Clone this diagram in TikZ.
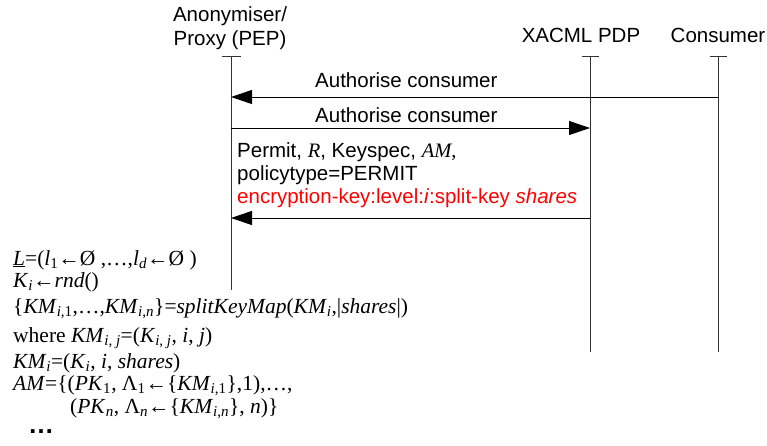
\documentclass[tikz,border=0pt]{standalone}
\usepackage{fontspec}
\setmainfont{Liberation Sans}
\newfontfamily\ser{Liberation Serif}
\usetikzlibrary{arrows.meta}
\newcommand{\lo}[1]{\textsubscript{#1}}
\newcommand{\ii}[1]{\textit{#1}}
\tikzset{
  lbl/.style={font=\fontsize{20.5}{24}\selectfont, inner sep=0pt},
  mathln/.style={font=\ser\fontsize{21.5}{24}\selectfont, anchor=west, inner sep=0pt},
  life/.style={draw=black!80, line width=0.9pt},
  msg/.style={draw=black, line width=0.9pt, -{Triangle[length=21pt,width=14pt]}},
}
\begin{document}
\begin{tikzpicture}[x=1pt,y=-1pt]
\useasboundingbox (0,0) rectangle (767,445);
% headers
\node[lbl, align=center] (hpep) at (230,28) {Anonymiser/\\Proxy (PEP)};
\node[lbl] (hpdp) at (581,35) {XACML PDP};
\node[lbl] (hcon) at (718,35) {Consumer};
% lifelines
\coordinate (pepT) at (231,56); \coordinate (pepB) at (231,290);
\coordinate (pdpT) at (590,56); \coordinate (pdpB) at (590,352);
\coordinate (conT) at (718,56); \coordinate (conB) at (718,352);
\draw[life] (pepT) -- (pepB);
\draw[life] (pdpT) -- (pdpB);
\draw[life] (conT) -- (conB);
\draw[life] ([xshift=-9.5pt]pepT) -- ([xshift=9.5pt]pepT);
\draw[life] ([xshift=-8.5pt]pdpT) -- ([xshift=8.5pt]pdpT);
\draw[life] ([xshift=-8.5pt]conT) -- ([xshift=8.5pt]conT);
% messages
\coordinate (m1s) at (718,97); \coordinate (m1e) at (231,97);
\draw[msg] (m1s) -- (m1e);
\node[lbl, anchor=west] (l1) at (315,80) {Authorise consumer};
\coordinate (m2s) at (231,128); \coordinate (m2e) at (590,128);
\draw[msg] (m2s) -- (m2e);
\node[lbl, anchor=west] (l2) at (315,115) {Authorise consumer};
\coordinate (m3s) at (590,218); \coordinate (m3e) at (231,218);
\draw[msg] (m3s) -- (m3e);
\node[lbl, anchor=west] (l3a) at (237,152) {Permit, {\ser\ii{R}}, Keyspec, {\ser\ii{AM},}};
\node[lbl, anchor=west] (l3b) at (237,175) {policytype=PERMIT};
\node[lbl, anchor=west, text=red] (l3c) at (237,198) {encryption-key:level:\ii{i}:split-key \ii{shares}};
% math block
\node[mathln] (e1) at (13,260) {\underline{\ii{L}}=(\ii{l}\lo{1}←Ø ,…,\ii{l}\lo{\ii{d}}←Ø )};
\node[mathln] (e2) at (13,282) {\ii{K}\lo{\ii{i}}←\ii{rnd}()};
\node[mathln] (e3) at (13,309) {\{\ii{KM}\lo{\ii{i},1},…,\ii{KM}\lo{\ii{i},\ii{n}}\}=\ii{splitKeyMap}(\ii{KM}\lo{\ii{i}},|\ii{shares}|)};
\node[mathln] (e4) at (13,338) {where \ii{KM}\lo{\ii{i}, \ii{j}}=(\ii{K}\lo{\ii{i}, \ii{j}}, \ii{i}, \ii{j})};
\node[mathln] (e5) at (13,363) {\ii{KM}\lo{\ii{i}}=(\ii{K}\lo{\ii{i}}, \ii{i}, \ii{shares})};
\node[mathln] (e6) at (13,386) {\ii{AM}=\{(\ii{PK}\lo{1}, Λ\lo{1}←\{\ii{KM}\lo{\ii{i},1}\},1),…,};
\node[mathln] (e7) at (70,409) {(\ii{PK}\lo{\ii{n}}, Λ\lo{\ii{n}}←\{\ii{KM}\lo{\ii{i},\ii{n}}\}, \ii{n})\}};
\node[lbl, anchor=west, font=\bfseries\fontsize{26}{28}\selectfont] (e8) at (28,432) {…};
\end{tikzpicture}
\end{document}
